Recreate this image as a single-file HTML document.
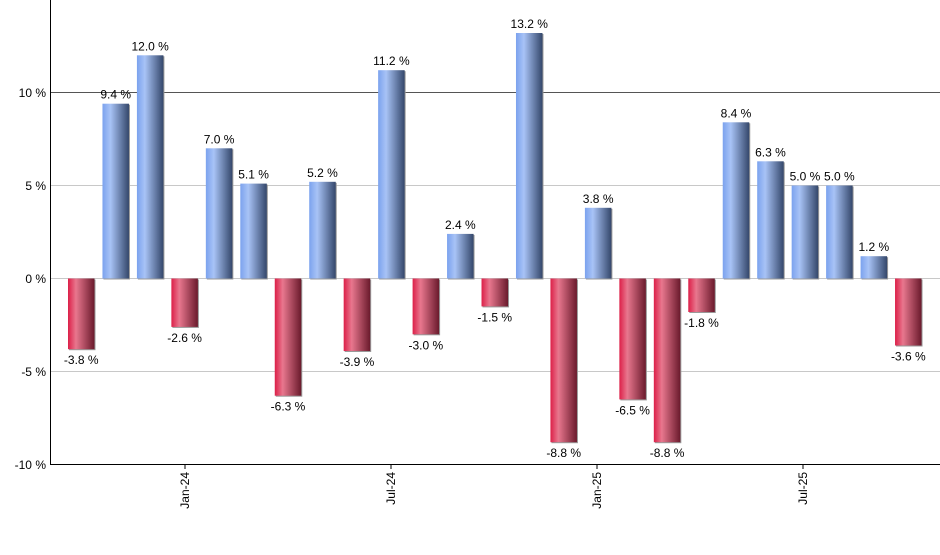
<!DOCTYPE html>
<html><head><style>
body{margin:0;background:#fff;}
svg text{font-family:"Liberation Sans",Arial,sans-serif;font-size:12px;fill:#000;}
</style></head><body>
<svg width="940" height="550" viewBox="0 0 940 550" xmlns="http://www.w3.org/2000/svg">
<defs>
<linearGradient id="b" x1="0" x2="1" y1="0" y2="0">
<stop offset="0" stop-color="#7ba2ee"/><stop offset="0.3" stop-color="#a8c3f6"/><stop offset="1" stop-color="#34476b"/>
</linearGradient>
<linearGradient id="r" x1="0" x2="1" y1="0" y2="0">
<stop offset="0" stop-color="#dc1f48"/><stop offset="0.3" stop-color="#e8778e"/><stop offset="1" stop-color="#6a1a2c"/>
</linearGradient>
<g id="sb"></g>
</defs>
<g stroke="#c8c8c8" stroke-width="1">
<line x1="50" x2="940" y1="185.5" y2="185.5"/>
<line x1="50" x2="940" y1="278.5" y2="278.5"/>
<line x1="50" x2="940" y1="371.5" y2="371.5"/>
</g>
<line x1="50" x2="940" y1="92.5" y2="92.5" stroke="#555"/>
<g text-anchor="end">
<text x="46" y="97">10 %</text>
<text x="46" y="190">5 %</text>
<text x="46" y="283">0 %</text>
<text x="46" y="376">-5 %</text>
<text x="46" y="469">-10 %</text>
</g>
<g fill="#999">
<rect x="69" y="279.5" width="26.5" height="70.7"/>
<rect x="103.46" y="104.7" width="26.5" height="174.8"/>
<rect x="137.92" y="56.3" width="26.5" height="223.2"/>
<rect x="172.38" y="279.5" width="26.5" height="48.4"/>
<rect x="206.84" y="149.3" width="26.5" height="130.2"/>
<rect x="241.3" y="184.6" width="26.5" height="94.9"/>
<rect x="275.76" y="279.5" width="26.5" height="117.2"/>
<rect x="310.22" y="182.8" width="26.5" height="96.7"/>
<rect x="344.68" y="279.5" width="26.5" height="72.5"/>
<rect x="379.14" y="71.2" width="26.5" height="208.3"/>
<rect x="413.6" y="279.5" width="26.5" height="55.8"/>
<rect x="448.06" y="234.9" width="26.5" height="44.6"/>
<rect x="482.52" y="279.5" width="26.5" height="27.9"/>
<rect x="516.98" y="34" width="26.5" height="245.5"/>
<rect x="551.44" y="279.5" width="26.5" height="163.7"/>
<rect x="585.9" y="208.8" width="26.5" height="70.7"/>
<rect x="620.36" y="279.5" width="26.5" height="120.9"/>
<rect x="654.82" y="279.5" width="26.5" height="163.7"/>
<rect x="689.28" y="279.5" width="26.5" height="33.5"/>
<rect x="723.74" y="123.3" width="26.5" height="156.2"/>
<rect x="758.2" y="162.3" width="26.5" height="117.2"/>
<rect x="792.66" y="186.5" width="26.5" height="93"/>
<rect x="827.12" y="186.5" width="26.5" height="93"/>
<rect x="861.58" y="257.2" width="26.5" height="22.3"/>
<rect x="896.04" y="279.5" width="26.5" height="67"/>
</g>
<g>
<rect fill="url(#r)" x="68" y="278.5" width="26.5" height="70.7"/>
<rect fill="url(#b)" x="102.46" y="103.7" width="26.5" height="174.8"/>
<rect fill="url(#b)" x="136.92" y="55.3" width="26.5" height="223.2"/>
<rect fill="url(#r)" x="171.38" y="278.5" width="26.5" height="48.4"/>
<rect fill="url(#b)" x="205.84" y="148.3" width="26.5" height="130.2"/>
<rect fill="url(#b)" x="240.3" y="183.6" width="26.5" height="94.9"/>
<rect fill="url(#r)" x="274.76" y="278.5" width="26.5" height="117.2"/>
<rect fill="url(#b)" x="309.22" y="181.8" width="26.5" height="96.7"/>
<rect fill="url(#r)" x="343.68" y="278.5" width="26.5" height="72.5"/>
<rect fill="url(#b)" x="378.14" y="70.2" width="26.5" height="208.3"/>
<rect fill="url(#r)" x="412.6" y="278.5" width="26.5" height="55.8"/>
<rect fill="url(#b)" x="447.06" y="233.9" width="26.5" height="44.6"/>
<rect fill="url(#r)" x="481.52" y="278.5" width="26.5" height="27.9"/>
<rect fill="url(#b)" x="515.98" y="33" width="26.5" height="245.5"/>
<rect fill="url(#r)" x="550.44" y="278.5" width="26.5" height="163.7"/>
<rect fill="url(#b)" x="584.9" y="207.8" width="26.5" height="70.7"/>
<rect fill="url(#r)" x="619.36" y="278.5" width="26.5" height="120.9"/>
<rect fill="url(#r)" x="653.82" y="278.5" width="26.5" height="163.7"/>
<rect fill="url(#r)" x="688.28" y="278.5" width="26.5" height="33.5"/>
<rect fill="url(#b)" x="722.74" y="122.3" width="26.5" height="156.2"/>
<rect fill="url(#b)" x="757.2" y="161.3" width="26.5" height="117.2"/>
<rect fill="url(#b)" x="791.66" y="185.5" width="26.5" height="93"/>
<rect fill="url(#b)" x="826.12" y="185.5" width="26.5" height="93"/>
<rect fill="url(#b)" x="860.58" y="256.2" width="26.5" height="22.3"/>
<rect fill="url(#r)" x="895.04" y="278.5" width="26.5" height="67"/>
</g>
<g text-anchor="middle">
<text x="81.25" y="364">-3.8 %</text>
<text x="115.71" y="98.7">9.4 %</text>
<text x="150.17" y="50.3">12.0 %</text>
<text x="184.63" y="341.9">-2.6 %</text>
<text x="219.09" y="143.3">7.0 %</text>
<text x="253.55" y="178.6">5.1 %</text>
<text x="288.01" y="410.7">-6.3 %</text>
<text x="322.47" y="176.8">5.2 %</text>
<text x="356.93" y="366">-3.9 %</text>
<text x="391.39" y="65.2">11.2 %</text>
<text x="425.85" y="349.3">-3.0 %</text>
<text x="460.31" y="228.9">2.4 %</text>
<text x="494.77" y="321.4">-1.5 %</text>
<text x="529.23" y="28">13.2 %</text>
<text x="563.69" y="457.2">-8.8 %</text>
<text x="598.15" y="202.8">3.8 %</text>
<text x="632.61" y="414.4">-6.5 %</text>
<text x="667.07" y="457.2">-8.8 %</text>
<text x="701.53" y="327">-1.8 %</text>
<text x="735.99" y="117.3">8.4 %</text>
<text x="770.45" y="156.3">6.3 %</text>
<text x="804.91" y="180.5">5.0 %</text>
<text x="839.37" y="180.5">5.0 %</text>
<text x="873.83" y="251.2">1.2 %</text>
<text x="908.29" y="360.5">-3.6 %</text>
</g>
<line x1="50.5" x2="50.5" y1="0" y2="465" stroke="#000"/>
<line x1="50" x2="940" y1="464.5" y2="464.5" stroke="#000"/>
<g stroke="#000">
<line x1="185" x2="185" y1="464" y2="469"/>
<line x1="391" x2="391" y1="464" y2="469"/>
<line x1="597" x2="597" y1="464" y2="469"/>
<line x1="803" x2="803" y1="464" y2="469"/>
</g>
<g text-anchor="end">
<text transform="translate(189,472) rotate(-90)">Jan-24</text>
<text transform="translate(395,472) rotate(-90)">Jul-24</text>
<text transform="translate(601,472) rotate(-90)">Jan-25</text>
<text transform="translate(807,472) rotate(-90)">Jul-25</text>
</g>
</svg>
</body></html>
